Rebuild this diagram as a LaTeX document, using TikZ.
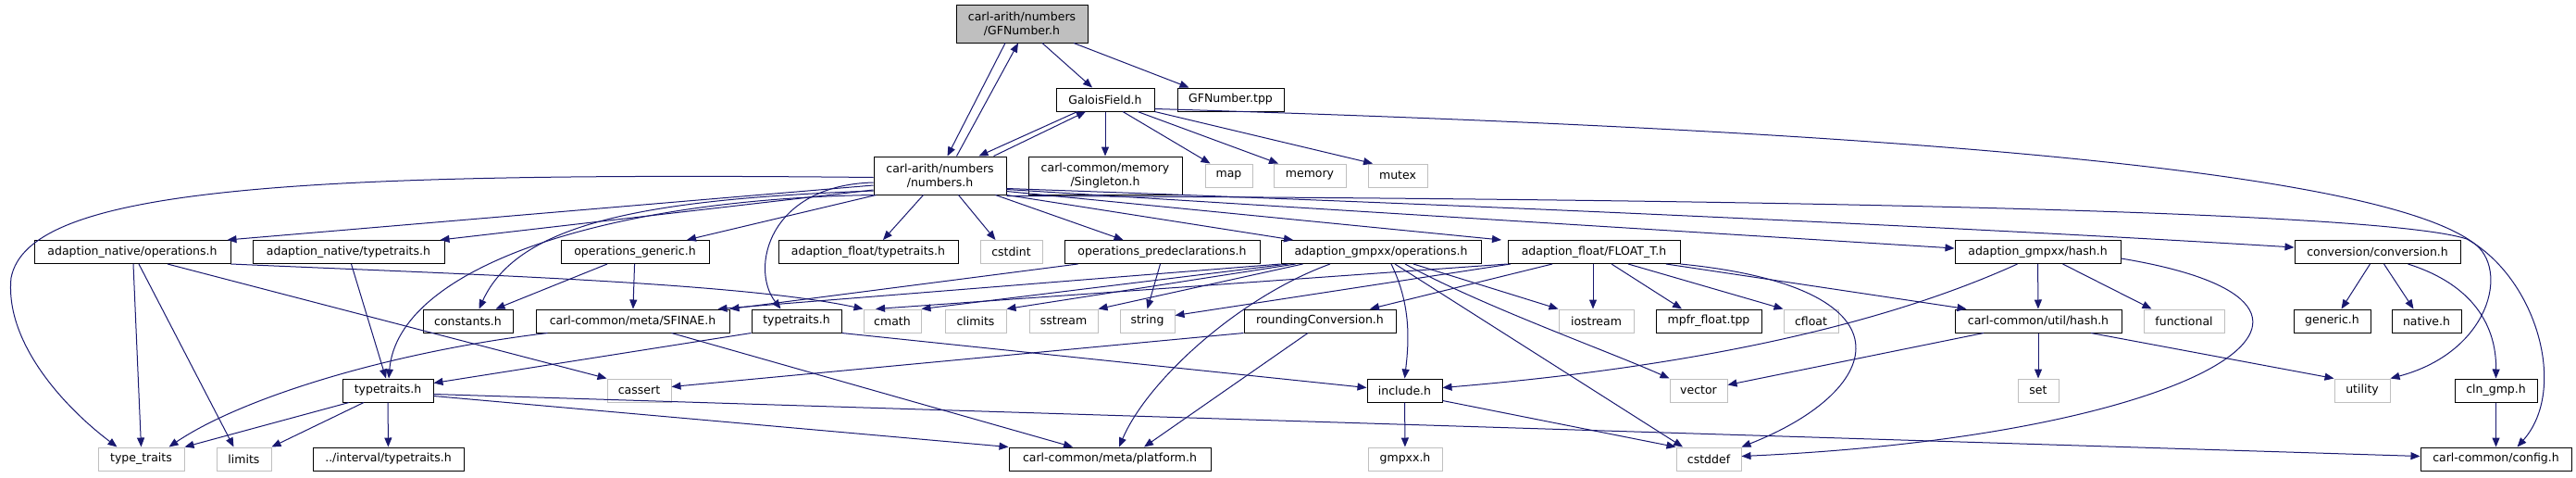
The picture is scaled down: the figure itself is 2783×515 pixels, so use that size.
\documentclass[tikz,border=0pt]{standalone}
\usepackage{fontspec}
\setmainfont{DejaVu Sans}
\usetikzlibrary{arrows.meta}
\definecolor{edgec}{HTML}{191970}
\definecolor{gfill}{HTML}{BFBFBF}
\definecolor{gline}{HTML}{BFBFBF}
\tikzset{
  nd/.style={draw=black, line width=1pt, fill=white, inner sep=0pt, minimum height=25pt,
    font=\fontsize{12.5}{15}\selectfont, text=black},
  sys/.style={nd, draw=gline},
  two/.style={minimum height=41pt, align=center},
  e/.style={draw=edgec, line width=1pt, -{Triangle[length=10pt,width=8pt]}},
}
\begin{document}
\begin{tikzpicture}[x=1pt,y=-1pt]
\useasboundingbox (0,0) rectangle (2783,515);
% row 0-2
\node[nd,two,fill=gfill,minimum width=142pt] (GFN) at (1104,25.5) {carl-arith/numbers\\/GFNumber.h};
\node[nd,minimum width=106pt] (GF) at (1194,107.5) {GaloisField.h};
\node[nd,minimum width=115pt] (tpp) at (1329.5,107.5) {GFNumber.tpp};
\node[nd,two,minimum width=143pt] (num) at (1015.5,189.5) {carl-arith/numbers\\/numbers.h};
\node[nd,two,minimum width=166pt] (sing) at (1194,189.5) {carl-common/memory\\/Singleton.h};
\node[sys,minimum width=51pt] (map) at (1327.5,189.5) {map};
\node[sys,minimum width=78pt] (memory) at (1415,189.5) {memory};
\node[sys,minimum width=64pt] (mutex) at (1510,189.5) {mutex};
% row 3
\node[nd,minimum width=212pt] (ano) at (143,272) {adaption\_native/operations.h};
\node[nd,minimum width=207pt] (ant) at (376.5,272) {adaption\_native/typetraits.h};
\node[nd,minimum width=160pt] (og) at (686,272) {operations\_generic.h};
\node[nd,minimum width=194pt] (aft) at (938,272) {adaption\_float/typetraits.h};
\node[sys,minimum width=67pt] (cstdint) at (1092.5,272) {cstdint};
\node[nd,minimum width=211pt] (opd) at (1255.5,272) {operations\_predeclarations.h};
\node[nd,minimum width=216pt] (ggo) at (1492,272) {adaption\_gmpxx/operations.h};
\node[nd,minimum width=186pt] (ft) at (1722,272) {adaption\_float/FLOAT\_T.h};
\node[nd,minimum width=179pt] (gh) at (2201.5,272) {adaption\_gmpxx/hash.h};
\node[nd,minimum width=179pt] (conv) at (2568.5,272) {conversion/conversion.h};
% row 4
\node[nd,minimum width=97pt] (const) at (505.5,346.5) {constants.h};
\node[nd,minimum width=209pt] (sfinae) at (683.5,346.5) {carl-common/meta/SFINAE.h};
\node[nd,minimum width=97pt] (tt2) at (860.5,346.5) {typetraits.h};
\node[sys,minimum width=62pt] (cmath) at (964,346.5) {cmath};
\node[sys,minimum width=66pt] (climits) at (1054,346.5) {climits};
\node[sys,minimum width=74pt] (sstream) at (1149,346.5) {sstream};
\node[sys,minimum width=59pt] (string) at (1239.5,346.5) {string};
\node[nd,minimum width=164pt] (rc) at (1426,346.5) {roundingConversion.h};
\node[sys,minimum width=81pt] (iostream) at (1724.5,346.5) {iostream};
\node[nd,minimum width=114pt] (mpfr) at (1846,346.5) {mpfr\_float.tpp};
\node[sys,minimum width=59pt] (cfloat) at (1956.5,346.5) {cfloat};
\node[nd,minimum width=180pt] (uh) at (2202,346.5) {carl-common/util/hash.h};
\node[sys,minimum width=87pt] (functional) at (2359.5,346.5) {functional};
\node[nd,minimum width=83pt] (generic) at (2519.5,346.5) {generic.h};
\node[nd,minimum width=75pt] (native) at (2621.5,346.5) {native.h};
% row 5
\node[nd,minimum width=98pt] (tt) at (419,421.5) {typetraits.h};
\node[sys,minimum width=69pt] (cassert) at (690.5,421.5) {cassert};
\node[nd,minimum width=81pt] (include) at (1517.5,421.5) {include.h};
\node[sys,minimum width=62pt] (vector) at (1835,421.5) {vector};
\node[sys,minimum width=44pt] (set) at (2202,421.5) {set};
\node[sys,minimum width=60pt] (utility) at (2552,421.5) {utility};
\node[nd,minimum width=89pt] (cln) at (2696.5,421.5) {cln\_gmp.h};
% row 6
\node[sys,minimum width=93pt] (typetr) at (152.5,495.5) {type\_traits};
\node[sys,minimum width=59pt] (limits) at (263.5,495.5) {limits};
\node[nd,minimum width=163pt] (interval) at (419.5,495.5) {../interval/typetraits.h};
\node[nd,minimum width=218pt] (platform) at (1199,495.5) {carl-common/meta/platform.h};
\node[sys,minimum width=80pt] (gmpxx) at (1518,495.5) {gmpxx.h};
\node[sys,minimum width=70pt] (cstddef) at (1846,495.5) {cstddef};
\node[nd,minimum width=163pt] (config) at (2696.5,495.5) {carl-common/config.h};

% edges: GFNumber.h / GaloisField.h
\draw[e] ([xshift=-18pt]GFN.south) -- ([xshift=8pt]num.north);
\draw[e] ([xshift=18pt]num.north) -- ([xshift=-4pt]GFN.south);
\draw[e] ([xshift=22pt]GFN.south) -- ([xshift=-14pt]GF.north);
\draw[e] ([xshift=56pt]GFN.south) -- ([xshift=-45pt]tpp.north);
\draw[e] ([xshift=-30pt]GF.south) -- ([xshift=42pt]num.north);
\draw[e] ([xshift=58pt]num.north) -- ([xshift=-21pt]GF.south);
\draw[e] (GF) -- (sing);
\draw[e] ([xshift=19pt]GF.south) -- ([xshift=-20pt]map.north);
\draw[e] ([xshift=35pt]GF.south) -- ([xshift=-34pt]memory.north);
\draw[e] (GF.south east) -- ([xshift=-27pt]mutex.north);
\draw[e] ([yshift=3pt]GF.south east) .. controls (2000,140) and (2560,180) .. (2672,262)
  .. controls (2712,290) and (2690,380) .. (utility.north east);
% edges: numbers.h
\draw[e] ([yshift=-1pt]num.south east) .. controls (2000,215) and (2580,230) .. (2665,258)
  .. controls (2740,300) and (2775,420) .. ([xshift=23pt]config.north);
\draw[e] ([yshift=-10.5pt]num.west) -- ([xshift=-4pt]ano.north east);
\draw[e] ([yshift=-15.5pt]num.west) -- ([xshift=-5pt]ant.north east);
\draw[e] ([yshift=-2pt]num.west) .. controls (300,185) and (30,205) .. (12,300)
  .. controls (5,370) and (70,440) .. ([xshift=-26pt]typetr.north);
\draw[e] ([yshift=-16.5pt]num.west) .. controls (700,215) and (560,240) .. ([xshift=12pt]const.north);
\draw[e] (num.south west) .. controls (650,215) and (430,290) .. ([xshift=1pt]tt.north);
\draw[e] ([xshift=3pt]num.south west) -- ([xshift=56pt]og.north);
\draw[e] ([yshift=-7.5pt]num.west) .. controls (830,200) and (810,290) .. ([xshift=-17pt]tt2.north);
\draw[e] ([xshift=-18pt]num.south) -- ([xshift=16pt]aft.north);
\draw[e] ([xshift=20pt]num.south) -- ([xshift=-17pt]cstdint.north);
\draw[e] ([xshift=60pt]num.south) -- ([xshift=-42pt]opd.north);
\draw[e] (num.south east) -- ([xshift=-95pt]ggo.north);
\draw[e] ([yshift=4pt]num.south east) -- ([xshift=-100pt]ft.north);
\draw[e] ([yshift=6pt]num.south east) -- ([yshift=4pt]gh.west);
\draw[e] ([yshift=7pt]num.south east) .. controls (1700,225) and (2200,250) .. ([yshift=5pt]conv.west);
% adaption_native
\draw[e] ([xshift=1pt]ano.south) -- (typetr.north);
\draw[e] ([xshift=7pt]ano.south) -- ([xshift=-11pt]limits.north);
\draw[e] ([xshift=38pt]ano.south) -- (cassert.north west);
\draw[e] (ano.south east) .. controls (500,296) and (800,305) .. (cmath.north west);
\draw[e] ([xshift=3pt]ant.south) -- ([xshift=-2pt]tt.north);
% operations_generic, SFINAE, typetraits
\draw[e] ([xshift=-30pt]og.south) -- ([xshift=30pt]const.north);
\draw[e] (og) -- (sfinae);
\draw[e] ([xshift=-92pt]sfinae.south) .. controls (420,380) and (260,430) .. ([xshift=30pt]typetr.north);
\draw[e] ([xshift=42pt]sfinae.south) -- ([xshift=-40pt]platform.north);
\draw[e] (tt2.south west) -- ([yshift=8pt]tt.east);
\draw[e] (tt2.south east) -- ([yshift=3pt]include.west);
% operations_predeclarations
\draw[e] ([xshift=-91pt]opd.south) -- (sfinae.north east);
\draw[e] ([xshift=-2pt]opd.south) -- (string.north);
% adaption_gmpxx/operations.h
\draw[e] (ggo.south west) -- ([xshift=-13pt]sfinae.north east);
\draw[e] ([xshift=8pt]ggo.south west) -- (cmath.north east);
\draw[e] ([xshift=16pt]ggo.south west) -- (climits.north east);
\draw[e] ([xshift=24pt]ggo.south west) -- (sstream.north east);
\draw[e] ([xshift=35pt]ggo.south) -- (iostream.north west);
\draw[e] ([xshift=26pt]ggo.south) .. controls (1600,330) and (1740,380) .. (vector.north west);
\draw[e] ([xshift=15pt]ggo.south) -- ([xshift=-28pt]cstddef.north);
\draw[e] ([xshift=11pt]ggo.south) .. controls (1525,330) and (1522,370) .. (include.north);
\draw[e] ([xshift=-55pt]ggo.south) .. controls (1340,320) and (1240,410) .. ([xshift=10pt]platform.north);
% roundingConversion
\draw[e] (rc.south west) -- ([yshift=4pt]cassert.east);
\draw[e] ([xshift=-13pt]rc.south) -- ([xshift=37pt]platform.north);
% FLOAT_T
\draw[e] (ft.south west) -- ([xshift=-18pt]cmath.north);
\draw[e] ([xshift=-90pt]ft.south) -- ([yshift=6pt]string.east);
\draw[e] ([xshift=-45pt]ft.south) -- ([xshift=54pt]rc.north);
\draw[e] ([xshift=-1pt]ft.south) -- ([xshift=-3.5pt]iostream.north);
\draw[e] ([xshift=19pt]ft.south) -- ([xshift=-29pt]mpfr.north);
\draw[e] ([xshift=37pt]ft.south) -- (cfloat.north west);
\draw[e] ([xshift=78pt]ft.south) -- ([xshift=13pt]uh.north west);
\draw[e] (ft.south east) .. controls (2070,310) and (2040,420) .. (cstddef.north east);
% adaption_gmpxx/hash.h
\draw[e] ([xshift=-22pt]gh.south) .. controls (2080,330) and (1900,390) .. ([yshift=3pt]include.east);
\draw[e] (gh) -- (uh);
\draw[e] ([xshift=27pt]gh.south) -- ([xshift=-35pt]functional.north);
\draw[e] ([yshift=-7pt]gh.east) .. controls (2600,330) and (2380,470) .. ([yshift=3pt]cstddef.east);
% util/hash.h
\draw[e] (uh) -- (set);
\draw[e] ([xshift=57pt]uh.south) -- (utility.north west);
\draw[e] ([xshift=-59pt]uh.south) -- ([yshift=6pt]vector.east);
% conversion
\draw[e] ([xshift=-8pt]conv.south) -- ([xshift=10pt]generic.north);
\draw[e] ([xshift=7pt]conv.south) -- ([xshift=-14pt]native.north);
\draw[e] ([xshift=33pt]conv.south) .. controls (2680,310) and (2697,360) .. (cln.north);
\draw[e] (cln) -- (config);
% typetraits.h
\draw[e] ([xshift=-42pt]tt.south) -- (typetr.north east);
\draw[e] ([xshift=-26pt]tt.south) -- (limits.north east);
\draw[e] (tt) -- (interval);
\draw[e] ([yshift=-6pt]tt.east) -- (platform.north west);
\draw[e] ([yshift=-4pt]tt.east) -- ([yshift=3pt]config.west);
% include.h
\draw[e] (include) -- (gmpxx);
\draw[e] ([yshift=2pt]include.south east) -- (cstddef.north west);
\end{tikzpicture}
\end{document}
